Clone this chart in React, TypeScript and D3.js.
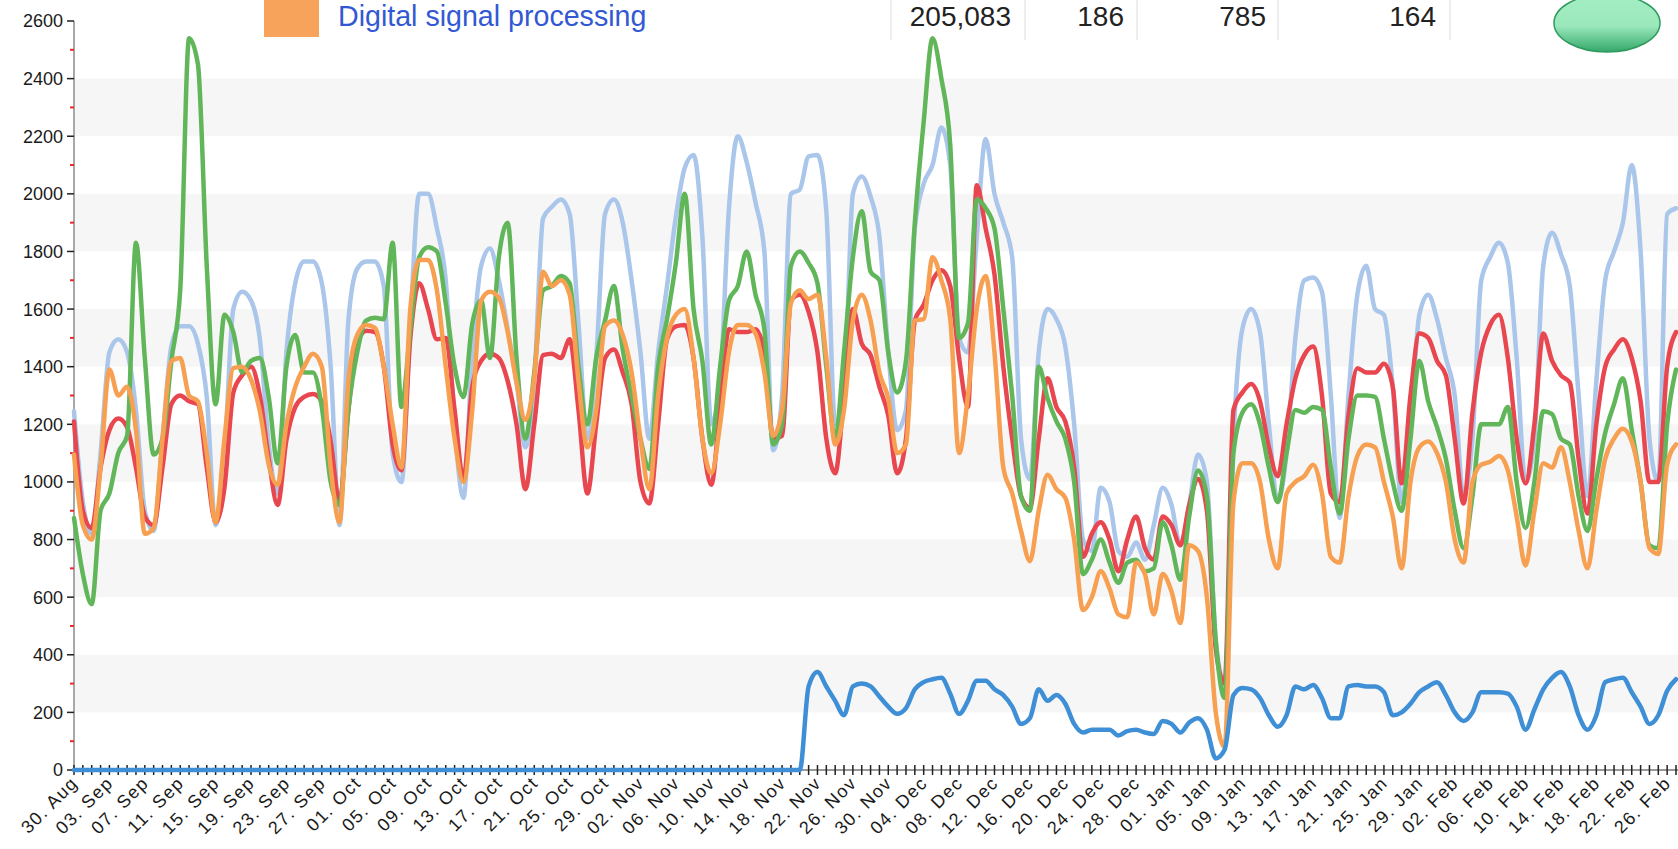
import React from 'react';
import * as d3 from 'd3';

// daily values, 30 Aug .. 27 Feb
const lightBlueSeries = [
  1245, 930, 820, 1100, 1450, 1495, 1450, 1250, 900, 830, 1150, 1470, 1540, 1540, 1480, 1295, 850, 1090, 1600, 1660, 1630, 1495, 1130, 960, 1450, 1690, 1765, 1765, 1690, 1400,
  850, 1560, 1740, 1765, 1765, 1680, 1100, 1000, 1550, 2000, 2000, 1880, 1700, 1200, 945, 1450, 1750, 1810, 1700, 1530, 1345, 1120, 1350, 1915, 1955, 1980, 1930, 1550, 1150, 1430,
  1930, 1980, 1900, 1700, 1450, 1150, 1450, 1680, 1920, 2090, 2135, 1850, 1200, 1350, 1950, 2200, 2110, 1970, 1800, 1110, 1300, 2000, 2015, 2130, 2135, 1940, 1200, 1300, 2000, 2060,
  1990, 1850, 1450, 1180, 1250, 1880, 2035, 2100, 2230, 2100, 1500, 1450, 1850, 2190, 2000, 1900, 1780, 1150, 1010, 1450, 1600, 1565, 1470, 1200, 800, 760, 980, 930, 760, 740,
  790, 730, 850, 980, 920, 780, 920, 1095, 1000, 450, 300, 1150, 1530, 1600, 1520, 1200, 930, 1100, 1500, 1700, 1710, 1660, 1300, 875, 1300, 1650, 1750, 1600, 1580, 1330,
  930, 1200, 1580, 1650, 1565, 1430, 1300, 950, 1150, 1700, 1780, 1830, 1760, 1430, 1000, 1150, 1750, 1865, 1790, 1680, 1300, 950, 1350, 1700, 1800, 1900, 2100, 1800, 1150, 1000, 1930, 1950,
];

const redSeries = [
  1210, 900, 840, 1050, 1180, 1220, 1190, 1050, 880, 850, 1050, 1270, 1300, 1280, 1270, 1050, 860, 980, 1310, 1370, 1400, 1300, 1080, 920, 1145, 1260, 1295, 1305, 1280, 1140,
  930, 1250, 1480, 1525, 1520, 1400, 1130, 1040, 1500, 1690, 1600, 1495, 1500, 1250, 1010, 1330, 1420, 1445, 1430, 1350, 1200, 975, 1200, 1440, 1445, 1430, 1495, 1250, 960, 1200,
  1430, 1460, 1380, 1270, 1000, 925, 1200, 1495, 1540, 1545, 1430, 1150, 990, 1260, 1530, 1520, 1520, 1530, 1450, 1150, 1160, 1630, 1650, 1590, 1450, 1150, 1030, 1300, 1600, 1480,
  1440, 1330, 1230, 1030, 1150, 1560, 1615, 1700, 1735, 1680, 1430, 1260, 2030, 1880, 1720, 1400, 1150, 950, 910, 1150, 1360, 1260, 1210, 1050, 740, 820, 860, 800, 690, 800,
  880, 770, 730, 880, 850, 780, 920, 1010, 900, 420, 300, 1250, 1310, 1340, 1280, 1120, 1020, 1200, 1360, 1440, 1470, 1300, 960, 930, 1230, 1395, 1380, 1380, 1410, 1330,
  995, 1300, 1515, 1500, 1420, 1370, 1150, 925, 1240, 1450, 1545, 1580, 1430, 1150, 995, 1200, 1515, 1420, 1370, 1345, 1080, 890, 1200, 1400, 1460, 1495, 1430, 1280, 1000, 1000, 1400, 1520,
];

const greenSeries = [
  875, 680, 575, 900, 960, 1100, 1160, 1830, 1430, 1095, 1150, 1420, 1665, 2540, 2450, 1750, 1270, 1580, 1520, 1380, 1420, 1430, 1295, 1065, 1400, 1510, 1380, 1380, 1260, 1000,
  920, 1250, 1450, 1560, 1570, 1565, 1830, 1260, 1530, 1780, 1815, 1800, 1620, 1400, 1295, 1550, 1630, 1430, 1780, 1900, 1430, 1150, 1380, 1665, 1680, 1715, 1690, 1400, 1200, 1430,
  1560, 1680, 1460, 1300, 1150, 1045, 1400, 1565, 1760, 2000, 1600, 1420, 1130, 1400, 1630, 1680, 1800, 1650, 1530, 1130, 1200, 1750, 1800, 1760, 1690, 1400, 1150, 1450, 1780, 1940,
  1730, 1700, 1450, 1310, 1420, 1900, 2250, 2540, 2400, 2170, 1500, 1550, 1980, 1950, 1880, 1600, 1300, 950, 900, 1400, 1290, 1210, 1150, 1000, 680, 730, 800, 720, 650, 720,
  730, 690, 700, 860, 780, 660, 880, 1040, 950, 450, 250, 1100, 1240, 1270, 1200, 1050, 930, 1100, 1250, 1240, 1260, 1250, 1050, 890, 1150, 1300, 1300, 1295, 1150, 1000,
  900, 1150, 1420, 1280, 1190, 1080, 900, 770, 950, 1200, 1200, 1200, 1260, 1000, 840, 1000, 1245, 1235, 1150, 1130, 950, 830, 1010, 1170, 1270, 1360, 1180, 1000, 780, 770, 1200, 1390,
];

const orangeSeries = [
  1095, 850, 800, 1050, 1390, 1300, 1330, 1180, 820, 840, 1150, 1420, 1430, 1300, 1280, 1100, 860, 1150, 1395, 1400, 1355, 1245, 1060, 990, 1200, 1330, 1400, 1445, 1400, 1050,
  860, 1350, 1510, 1545, 1535, 1400, 1200, 1050, 1600, 1770, 1770, 1665, 1400, 1150, 1000, 1250, 1630, 1660, 1640, 1520, 1345, 1215, 1360, 1730, 1680, 1700, 1650, 1350, 1120, 1250,
  1540, 1560, 1510, 1380, 1150, 975, 1300, 1500, 1580, 1600, 1430, 1150, 1030, 1200, 1450, 1545, 1545, 1515, 1380, 1160, 1250, 1620, 1665, 1635, 1650, 1430, 1130, 1250, 1560, 1650,
  1560, 1380, 1290, 1100, 1130, 1560, 1565, 1780, 1700, 1565, 1100, 1300, 1600, 1715, 1450, 1050, 960, 830, 725, 900, 1025, 975, 945, 800, 555, 600, 690, 630, 540, 530,
  720, 680, 540, 680, 620, 510, 780, 760, 600, 200, 80, 930, 1065, 1065, 1000, 800, 700, 960, 1000, 1020, 1060, 960, 740, 720, 950, 1090, 1130, 1120, 1000, 880,
  700, 1000, 1120, 1140, 1100, 1000, 800, 720, 1000, 1060, 1070, 1090, 1040, 880, 710, 900, 1065, 1050, 1120, 1000, 830, 700, 900, 1080, 1150, 1185, 1140, 1000, 770, 750, 1060, 1130,
];

const blueSeries = [
  0, 0, 0, 0, 0, 0, 0, 0, 0, 0, 0, 0, 0, 0, 0, 0, 0, 0, 0, 0, 0, 0, 0, 0, 0, 0, 0, 0, 0, 0,
  0, 0, 0, 0, 0, 0, 0, 0, 0, 0, 0, 0, 0, 0, 0, 0, 0, 0, 0, 0, 0, 0, 0, 0, 0, 0, 0, 0, 0, 0,
  0, 0, 0, 0, 0, 0, 0, 0, 0, 0, 0, 0, 0, 0, 0, 0, 0, 0, 0, 0, 0, 0, 0, 290, 340, 290, 240, 190, 290, 300,
  290, 255, 220, 195, 215, 280, 305, 315, 320, 265, 195, 240, 310, 310, 280, 260, 220, 160, 180, 280, 240, 260, 230, 160, 130, 140, 140, 140, 120, 135,
  140, 130, 125, 170, 160, 130, 165, 180, 140, 40, 70, 260, 285, 280, 250, 190, 150, 190, 290, 280, 295, 250, 180, 180, 290, 295, 290, 290, 270, 190,
  200, 230, 270, 290, 305, 260, 200, 170, 200, 270, 270, 270, 265, 220, 140, 210, 280, 320, 340, 290, 190, 140, 190, 305, 315, 320, 270, 220, 160, 190, 275, 315,
];

const seriesColors = ['#aac6ea', '#e8474f', '#62b65a', '#f7a052', '#3f8fd6'];

const headerLabel = 'Digital signal processing';
const headerValues = ['205,083', '186', '785', '164'];
const headerValueRight = [1011, 1124, 1266, 1436];
const headerSeparators = [891, 1025, 1137, 1278, 1450];

const W = 1678;
const H = 849;
const axisX = 74;
const axisY = 770;
const labelFont = "'Liberation Sans', Arial, sans-serif";

const App: React.FC = () => {
  const start = new Date(Date.UTC(2013, 7, 30));
  const dates = lightBlueSeries.map((_, i) => d3.utcDay.offset(start, i));

  const x = d3.scaleUtc()
    .domain([dates[0], dates[dates.length - 1]])
    .range([axisX, 1676]);
  const y = d3.scaleLinear().domain([0, 2600]).range([axisY, 21]);

  const line = d3.line<number>()
    .x((_, i) => x(dates[i]))
    .y(d => y(d))
    .curve(d3.curveMonotoneX);

  const fmt = d3.utcFormat('%d. %b');
  const majorTicks = d3.range(0, 2601, 200);
  const minorTicks = d3.range(100, 2600, 200);
  const bands = d3.range(200, 2400, 400);
  const labelIdx = d3.range(0, dates.length, 4);

  const allSeries = [lightBlueSeries, redSeries, greenSeries, orangeSeries, blueSeries];

  return (
    <svg width={W} height={H} style={{ position: 'absolute', left: 0, top: 0, background: '#fff' }}
      fontFamily={labelFont}>
      <defs>
        <linearGradient id="pill" x1="0" y1="0" x2="0" y2="1">
          <stop offset="0%" stopColor="#a6eec4" />
          <stop offset="55%" stopColor="#9ae8bb" />
          <stop offset="100%" stopColor="#33a86a" />
        </linearGradient>
      </defs>

      {/* plot bands */}
      {bands.map(b => (
        <rect key={b} x={axisX + 1} y={y(b + 200)} width={W - axisX} height={y(b) - y(b + 200)} fill="#f6f6f6" />
      ))}

      {/* y axis */}
      <line x1={axisX} x2={axisX} y1={y(2600)} y2={axisY} stroke="#a8a8a8" strokeWidth={2} />
      {majorTicks.map(t => (
        <g key={t}>
          <line x1={axisX - 7} x2={axisX} y1={y(t)} y2={y(t)} stroke="#222" strokeWidth={1.5} />
          <text x={63} y={y(t)} dy="0.36em" textAnchor="end" fontSize={18} fill="#1a1a1a">{t}</text>
        </g>
      ))}
      {minorTicks.map(t => (
        <line key={t} x1={axisX - 4} x2={axisX} y1={y(t)} y2={y(t)} stroke="#e8282c" strokeWidth={2} />
      ))}

      {/* x axis */}
      <line x1={axisX} x2={W} y1={axisY} y2={axisY} stroke="#777" strokeWidth={1.5} />
      {dates.map((d, i) => (
        <line key={i} x1={x(d)} x2={x(d)} y1={axisY - 5} y2={axisY + 5} stroke="#222" strokeWidth={1.5} />
      ))}
      {labelIdx.map(i => (
        <text key={i} transform={`translate(${x(dates[i]) + 5},${axisY + 14}) rotate(-45)`}
          textAnchor="end" fontSize={18} letterSpacing={1.5} fill="#1a1a1a">{fmt(dates[i])}</text>
      ))}

      {/* series */}
      {allSeries.map((s, k) => (
        <path key={k} d={line(s) || ''} fill="none" stroke={seriesColors[k]} strokeWidth={4.5}
          strokeLinejoin="round" strokeLinecap="round" />
      ))}

      {/* header row of the legend table */}
      <rect x={264} y={0} width={55} height={37} fill="#f7a35c" />
      <text x={338} y={26} fontSize={28.6} fill="#3358d4">{headerLabel}</text>
      {headerSeparators.map(s => (
        <line key={s} x1={s} x2={s} y1={0} y2={40} stroke="#dddddd" strokeWidth={1} />
      ))}
      {headerValues.map((v, i) => (
        <text key={v} x={headerValueRight[i]} y={26} textAnchor="end" fontSize={28} fill="#222">{v}</text>
      ))}
      <ellipse cx={1607} cy={23} rx={53} ry={29} fill="url(#pill)" stroke="#2e9a5e" strokeWidth={1.5} />
    </svg>
  );
};

export default App;
